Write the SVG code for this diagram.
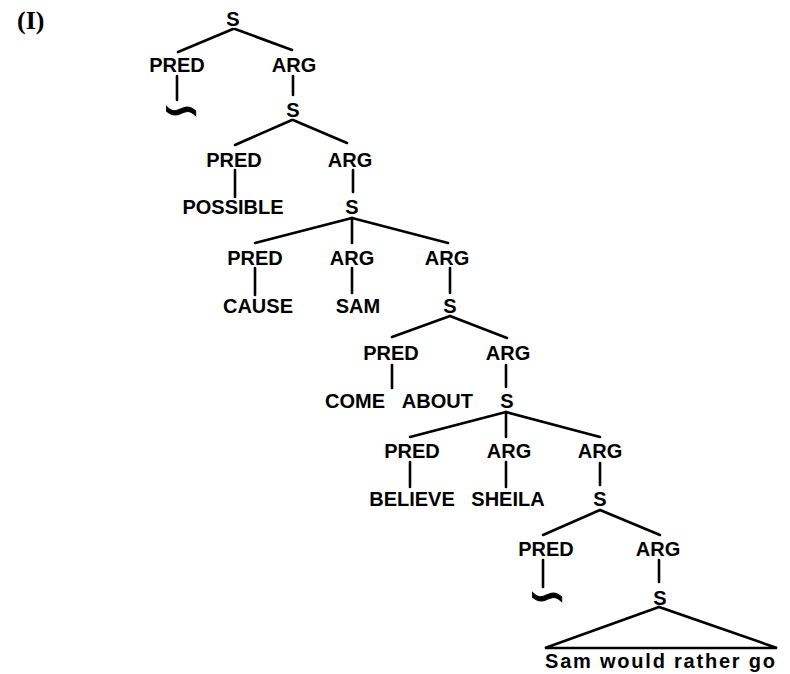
<svg xmlns="http://www.w3.org/2000/svg" width="790" height="674" viewBox="0 0 790 674">
<style>
.lbl{font-family:"Liberation Sans",Arial,sans-serif;font-weight:bold;font-size:20px;fill:#000;text-anchor:middle}
.tl{font-family:"DejaVu Sans",sans-serif;font-size:36px;fill:#000;stroke:#000;stroke-width:0.7;text-anchor:middle}
.ex{font-family:"Liberation Serif","Times New Roman",serif;font-weight:bold;font-size:26px;fill:#000}
.c line,.c path{stroke:#000;stroke-width:2.6;stroke-linecap:round;fill:none}
</style>
<rect width="790" height="674" fill="#fff"/>
<text class="ex" x="17" y="29">(I)</text>
<g class="c" id="connectors">
<line x1="233" y1="29" x2="178" y2="52"/>
<line x1="235" y1="29" x2="292" y2="50"/>
<line x1="177" y1="76" x2="177" y2="100"/>
<line x1="293" y1="76" x2="293" y2="95"/>
<line x1="292" y1="120" x2="235" y2="145"/>
<line x1="293" y1="120" x2="347" y2="143"/>
<line x1="235" y1="170" x2="235" y2="197"/>
<line x1="353" y1="170" x2="353" y2="192"/>
<line x1="352" y1="218" x2="255" y2="243"/>
<line x1="352" y1="218" x2="352" y2="243"/>
<line x1="352" y1="218" x2="448" y2="243"/>
<line x1="255" y1="268" x2="255" y2="295"/>
<line x1="352" y1="268" x2="352" y2="293"/>
<line x1="450" y1="268" x2="450" y2="293"/>
<line x1="450" y1="316" x2="392" y2="337"/>
<line x1="450" y1="316" x2="507" y2="338"/>
<line x1="392" y1="365" x2="392" y2="388"/>
<line x1="506" y1="365" x2="506" y2="387"/>
<line x1="506" y1="412" x2="410" y2="437"/>
<line x1="506" y1="412" x2="506" y2="437"/>
<line x1="506" y1="412" x2="600" y2="437"/>
<line x1="410" y1="462" x2="410" y2="487"/>
<line x1="506" y1="462" x2="506" y2="487"/>
<line x1="600" y1="463" x2="600" y2="485"/>
<line x1="600" y1="510" x2="543" y2="535"/>
<line x1="600" y1="510" x2="660" y2="535"/>
<line x1="543" y1="560" x2="543" y2="587"/>
<line x1="659" y1="560" x2="659" y2="582"/>
<path d="M659 607 L545 648 L777 648 Z"/>
</g>
<g id="n-s1"><text class="lbl" x="233" y="26">S</text></g>
<g id="n-pred1"><text class="lbl" x="177" y="72">PRED</text></g>
<g id="n-arg1"><text class="lbl" x="294" y="72">ARG</text></g>
<g id="n-null1"><text class="tl" transform="translate(181,110) scale(1.3,1.5)" x="0" y="12">∽</text></g>
<g id="n-s2"><text class="lbl" x="293" y="117">S</text></g>
<g id="n-pred2"><text class="lbl" x="234" y="167">PRED</text></g>
<g id="n-arg2"><text class="lbl" x="350" y="167">ARG</text></g>
<g id="n-possible"><text class="lbl" x="233" y="214">POSSIBLE</text></g>
<g id="n-s3"><text class="lbl" x="352" y="214">S</text></g>
<g id="n-pred3"><text class="lbl" x="255" y="265">PRED</text></g>
<g id="n-arg3a"><text class="lbl" x="352" y="265">ARG</text></g>
<g id="n-arg3b"><text class="lbl" x="447" y="265">ARG</text></g>
<g id="n-cause"><text class="lbl" x="258" y="313">CAUSE</text></g>
<g id="n-sam"><text class="lbl" x="358" y="313">SAM</text></g>
<g id="n-s4"><text class="lbl" x="450" y="313">S</text></g>
<g id="n-pred4"><text class="lbl" x="391" y="360">PRED</text></g>
<g id="n-arg4"><text class="lbl" x="508" y="360">ARG</text></g>
<g id="n-comeabout"><text class="lbl" x="399" y="408" word-spacing="12">COME ABOUT</text></g>
<g id="n-s5"><text class="lbl" x="507" y="408">S</text></g>
<g id="n-pred5"><text class="lbl" x="412" y="458">PRED</text></g>
<g id="n-arg5a"><text class="lbl" x="509" y="458">ARG</text></g>
<g id="n-arg5b"><text class="lbl" x="600" y="458">ARG</text></g>
<g id="n-believe"><text class="lbl" x="412" y="506">BELIEVE</text></g>
<g id="n-sheila"><text class="lbl" x="508" y="506">SHEILA</text></g>
<g id="n-s6"><text class="lbl" x="600" y="506">S</text></g>
<g id="n-pred6"><text class="lbl" x="546" y="556">PRED</text></g>
<g id="n-arg6"><text class="lbl" x="658" y="556">ARG</text></g>
<g id="n-null2"><text class="tl" transform="translate(547,596) scale(1.3,1.5)" x="0" y="12">∽</text></g>
<g id="n-s7"><text class="lbl" x="660" y="605">S</text></g>
<g id="n-sentence"><text class="lbl" x="545" y="668" style="text-anchor:start" textLength="230" lengthAdjust="spacing">Sam would rather go</text></g>
</svg>
